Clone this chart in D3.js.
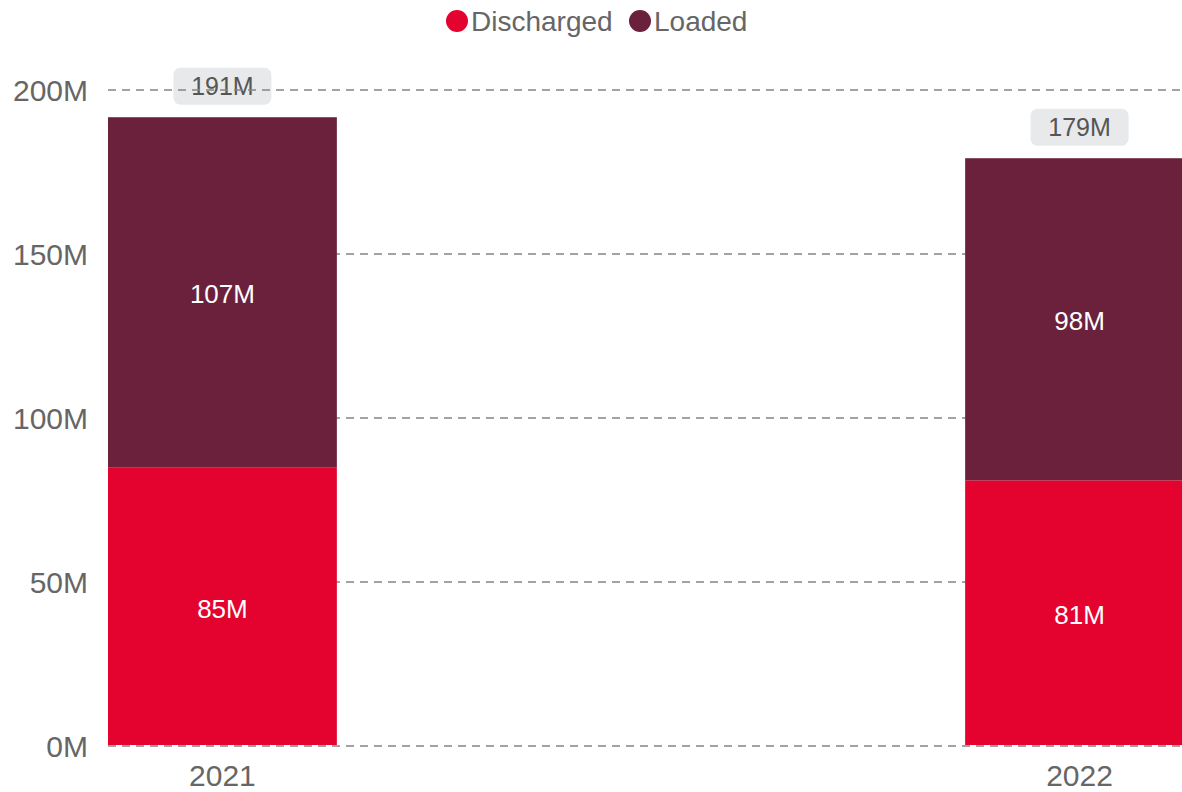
<!DOCTYPE html>
<head>
    <meta charset="utf-8">
    <title>Discharged and Loaded</title>
    <style>
        body { margin: 0; background: #fff; }
        text { font-family: "Liberation Sans", Arial, sans-serif; }
    </style>
</head>
<body>
    <svg width="1182" height="792"></svg>
    <script src="https://d3js.org/d3.v7.min.js"></script>
    <script>
        var years = ["2021", "2022"];
        var discharged = [85, 81];
        var loaded = [106.7, 98.2];
        var totals = [191, 179];
        var seriesNames = ["Discharged", "Loaded"];
        var colors = ["#e4032e", "#6b213c"];
        var yTicks = [0, 50, 100, 150, 200];

        var svg = d3.select("svg"),
            width = +svg.attr("width"),
            height = +svg.attr("height");

        var x = d3.scaleBand().domain(years).range([108, 1194]).paddingInner(0.733).paddingOuter(0);
        var y = d3.scaleLinear().domain([0, 200]).range([746, 90]);

        var rows = years.map(function (yr, i) {
            return { year: yr, Discharged: discharged[i], Loaded: loaded[i], total: totals[i] };
        });
        var stack = d3.stack().keys(seriesNames)(rows);

        // total labels (under the gridlines, like the original)
        var tot = svg.append("g").selectAll("g")
            .data(rows).enter().append("g")
            .attr("transform", function (d) {
                return "translate(" + (x(d.year) + x.bandwidth() / 2) + "," + (y(d.Discharged + d.Loaded) - 31) + ")";
            });
        tot.append("rect")
            .attr("x", -49).attr("y", -18.5)
            .attr("width", 98).attr("height", 37)
            .attr("rx", 7)
            .attr("fill", "#e8e9eb");
        tot.append("text")
            .attr("dy", "0.35em")
            .attr("text-anchor", "middle")
            .attr("font-size", 25)
            .attr("fill", "#555")
            .text(function (d) { return d.total + "M"; });

        // gridlines
        svg.append("g").selectAll("line")
            .data(yTicks).enter().append("line")
            .attr("x1", 108).attr("x2", width)
            .attr("y1", function (d) { return y(d); })
            .attr("y2", function (d) { return y(d); })
            .attr("stroke", "#858585")
            .attr("stroke-width", 1.6)
            .attr("stroke-dasharray", "8,6");

        // y labels
        svg.append("g").selectAll("text")
            .data(yTicks).enter().append("text")
            .attr("x", 88).attr("y", function (d) { return y(d); })
            .attr("dy", "0.35em")
            .attr("text-anchor", "end")
            .attr("font-size", 30)
            .attr("fill", "#666")
            .text(function (d) { return d + "M"; });

        // bars
        var layer = svg.append("g").selectAll("g")
            .data(stack).enter().append("g")
            .attr("fill", function (d, i) { return colors[i]; });

        layer.selectAll("rect")
            .data(function (d) { return d; }).enter().append("rect")
            .attr("x", function (d) { return x(d.data.year); })
            .attr("y", function (d) { return y(d[1]); })
            .attr("width", x.bandwidth())
            .attr("height", function (d) { return y(d[0]) - y(d[1]) - (d[0] === 0 ? 1 : 0); });

        layer.selectAll("text")
            .data(function (d) { return d.map(function (p) { return { p: p, key: d.key }; }); })
            .enter().append("text")
            .attr("x", function (d) { return x(d.p.data.year) + x.bandwidth() / 2; })
            .attr("y", function (d) { return (y(d.p[0]) + y(d.p[1])) / 2 + 2; })
            .attr("dy", "0.35em")
            .attr("text-anchor", "middle")
            .attr("font-size", 26)
            .attr("fill", "#fff")
            .text(function (d) { return Math.round(d.p.data[d.key]) + "M"; });

        // x labels
        svg.append("g").selectAll("text")
            .data(years).enter().append("text")
            .attr("x", function (d) { return x(d) + x.bandwidth() / 2; })
            .attr("y", 775)
            .attr("dy", "0.35em")
            .attr("text-anchor", "middle")
            .attr("font-size", 30)
            .attr("fill", "#666")
            .text(function (d) { return d; });

        // legend
        var legendX = [457, 640];
        var leg = svg.append("g").selectAll("g")
            .data(seriesNames).enter().append("g")
            .attr("transform", function (d, i) { return "translate(" + legendX[i] + ",21)"; });
        leg.append("circle").attr("r", 11).attr("fill", function (d, i) { return colors[i]; });
        leg.append("text")
            .attr("x", 14).attr("dy", "0.35em")
            .attr("font-size", 28)
            .attr("fill", "#666")
            .text(function (d) { return d; });
    </script>
</body>
